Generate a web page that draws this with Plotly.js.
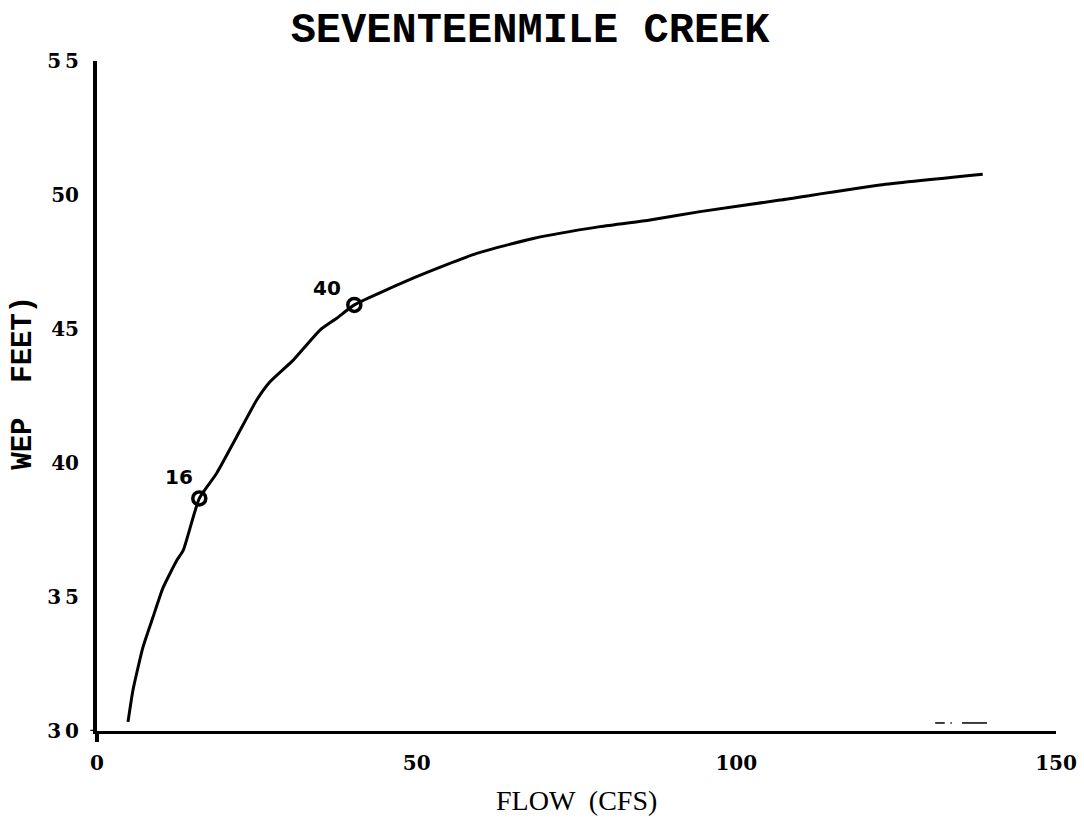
<!DOCTYPE html>
<html>
<head>
<meta charset="utf-8">
<script src="https://cdn.plot.ly/plotly-3.0.1.min.js"></script>
<style>html,body{margin:0;padding:0;background:#fff;}#chart{width:1084px;height:819px;}</style>
</head>
<body>
<div id="chart"></div>
<script>
// Rating curve: flow (cfs) vs wetted perimeter (feet)
const flowCfs = [4.85, 5.63, 7.19, 8.76, 10.32, 12.51, 13.5, 16.0, 18.72, 21.85, 24.98, 27.06, 30.7, 34.88, 37.49, 40.25, 50.0, 59.39, 68.24, 78.68, 86.5, 94.32, 106.83, 122.47, 138.54];
const wepFeet = [30.34, 31.53, 33.13, 34.25, 35.34, 36.38, 36.75, 38.68, 39.62, 40.98, 42.35, 43.03, 43.84, 44.96, 45.40, 45.90, 46.95, 47.82, 48.38, 48.82, 49.07, 49.38, 49.81, 50.37, 50.77];

// Marked points on the curve
const markFlow = [16.0, 40.25];
const markWep = [38.68, 45.9];
const markLabels = ['16', '40'];

// Small stray dashes near the x axis
const dashFlow = [131.1, 132.6, null, 133.5, 133.7, null, 135.3, 139.2];
const dashWep = [30.3, 30.3, null, 30.3, 30.3, null, 30.3, 30.3];

// Axis ticks
const xTickVals = [0, 50, 100, 150];
const xTickText = ['0', '50', '100', '150'];
const yTickVals = [30, 35, 40, 45, 50, 55];
const yTickText = ['3\u20090', '3\u20095', '40', '45', '50', '5\u20095'];

const traces = [
  {
    x: flowCfs, y: wepFeet, type: 'scatter', mode: 'lines',
    line: {color: '#000', width: 3, shape: 'spline', smoothing: 0.5},
    hoverinfo: 'skip', showlegend: false
  },
  {
    x: dashFlow, y: dashWep, type: 'scatter', mode: 'lines',
    line: {color: '#000', width: 1.5},
    hoverinfo: 'skip', showlegend: false
  },
  {
    x: markFlow, y: markWep, type: 'scatter', mode: 'markers',
    marker: {symbol: 'circle-open', size: 13, color: '#000', line: {width: 3.5, color: '#000'}},
    hoverinfo: 'skip', showlegend: false
  }
];

const annotations = [
  {
    text: 'FLOW  (CFS)', xref: 'paper', yref: 'paper', x: 0.5, y: -0.104,
    xanchor: 'center', yanchor: 'middle', showarrow: false,
    font: {family: 'Liberation Serif', size: 28, color: '#000'}
  },
  {
    text: 'WEP  FEET)', xref: 'paper', yref: 'paper', x: -0.077, y: 0.52,
    xanchor: 'center', yanchor: 'middle', showarrow: false, textangle: -90,
    font: {family: 'Liberation Mono', size: 29, color: '#000', weight: 'bold'}
  }
];
const offs = [[-20, 21], [-27, 17]];
markLabels.forEach((t, i) => {
  annotations.push({
    text: t, x: markFlow[i], y: markWep[i], xref: 'x', yref: 'y',
    xshift: offs[i][0], yshift: offs[i][1], showarrow: false,
    xanchor: 'center', yanchor: 'middle',
    font: {family: 'DejaVu Sans', size: 20, color: '#000', weight: 'bold'}
  });
});

const layout = {
  width: 1084, height: 819,
  margin: {l: 97, r: 28, t: 61, b: 88},
  paper_bgcolor: '#fff', plot_bgcolor: '#fff',
  title: {
    text: 'SEVENTEENMILE CREEK', xref: 'container', yref: 'container',
    x: 0.489, y: 0.967, xanchor: 'center', yanchor: 'middle',
    font: {family: 'Liberation Mono', size: 42, color: '#000', weight: 'bold'}
  },
  xaxis: {
    range: [0, 150], showgrid: false, zeroline: false,
    showline: true, linecolor: '#000', linewidth: 2.5,
    tickvals: xTickVals, ticktext: xTickText, ticks: '',
    ticklabelstandoff: 12,
    tickfont: {family: 'DejaVu Serif', size: 20, color: '#000', weight: 'bold'}
  },
  yaxis: {
    range: [30, 55], showgrid: false, zeroline: false,
    showline: true, linecolor: '#000', linewidth: 4,
    tickvals: yTickVals, ticktext: yTickText, ticks: '',
    ticklabelstandoff: 10,
    tickfont: {family: 'DejaVu Serif', size: 20, color: '#000', weight: 'bold'}
  },
  shapes: [
    {type: 'line', xref: 'paper', yref: 'paper', x0: 0, x1: 0, y0: 0, y1: -0.0164,
     line: {color: '#000', width: 4}},
    {type: 'line', xref: 'paper', yref: 'y', x0: -0.007, x1: 0, y0: 30, y1: 30,
     line: {color: '#000', width: 2.5}}
  ],
  annotations: annotations,
  showlegend: false
};

Plotly.newPlot('chart', traces, layout, {displayModeBar: false, staticPlot: true});
</script>
</body>
</html>
